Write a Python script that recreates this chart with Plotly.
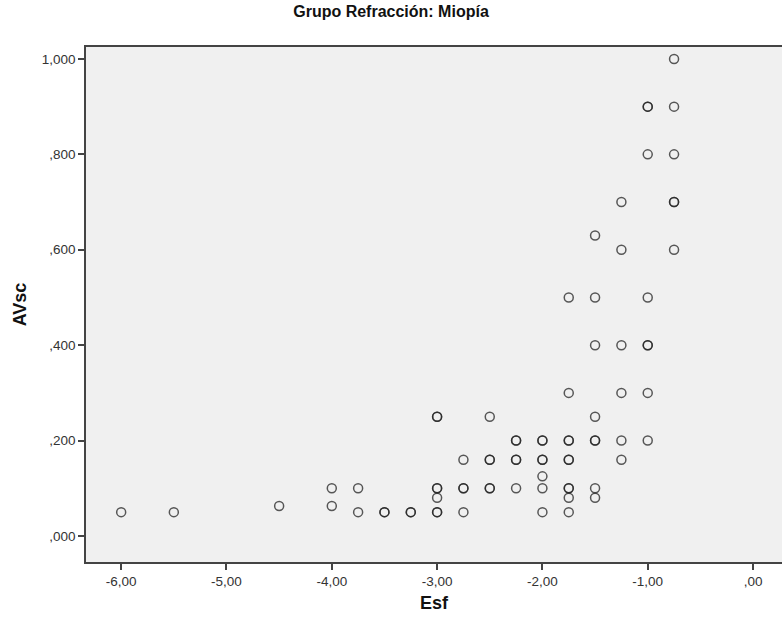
import plotly.graph_objects as go

# Data (duplicates represent overlapping cases)
esf = [-6, -5.5, -4.5,
       -4, -4,
       -3.75, -3.75,
       -3.5, -3.5,
       -3.25, -3.25,
       -3, -3, -3, -3, -3, -3, -3,
       -2.75, -2.75, -2.75, -2.75,
       -2.5, -2.5, -2.5, -2.5, -2.5,
       -2.25, -2.25, -2.25, -2.25, -2.25,
       -2, -2, -2, -2, -2, -2, -2,
       -1.75, -1.75, -1.75, -1.75, -1.75, -1.75, -1.75, -1.75, -1.75, -1.75,
       -1.5, -1.5, -1.5, -1.5, -1.5, -1.5, -1.5, -1.5,
       -1.25, -1.25, -1.25, -1.25, -1.25, -1.25,
       -1, -1, -1, -1, -1, -1, -1, -1,
       -0.75, -0.75, -0.75, -0.75, -0.75, -0.75]
avsc = [0.05, 0.05, 0.063,
        0.1, 0.063,
        0.1, 0.05,
        0.05, 0.05,
        0.05, 0.05,
        0.25, 0.25, 0.1, 0.1, 0.08, 0.05, 0.05,
        0.16, 0.1, 0.1, 0.05,
        0.25, 0.16, 0.16, 0.1, 0.1,
        0.2, 0.2, 0.16, 0.16, 0.1,
        0.2, 0.2, 0.16, 0.16, 0.125, 0.1, 0.05,
        0.5, 0.3, 0.2, 0.2, 0.16, 0.16, 0.1, 0.1, 0.08, 0.05,
        0.63, 0.5, 0.4, 0.25, 0.2, 0.2, 0.1, 0.08,
        0.7, 0.6, 0.4, 0.3, 0.2, 0.16,
        0.9, 0.9, 0.8, 0.5, 0.4, 0.4, 0.3, 0.2,
        1.0, 0.9, 0.8, 0.7, 0.7, 0.6]

x_tickvals = [-6, -5, -4, -3, -2, -1, 0]
x_ticktext = ["-6,00", "-5,00", "-4,00", "-3,00", "-2,00", "-1,00", ",00"]
y_tickvals = [0, 0.2, 0.4, 0.6, 0.8, 1.0]
y_ticktext = [",000", ",200", ",400", ",600", ",800", "1,000"]

FONT = "Liberation Sans, Arial, sans-serif"

fig = go.Figure()
fig.add_trace(go.Scatter(
    x=esf, y=avsc, mode="markers",
    marker=dict(symbol="circle-open", size=9, color="rgba(35,35,35,0.75)",
                line=dict(width=1.5, color="rgba(35,35,35,0.75)")),
    hoverinfo="x+y", showlegend=False,
))

fig.update_layout(
    width=782, height=619,
    margin=dict(l=86, r=0, t=47, b=57, autoexpand=False),
    paper_bgcolor="white",
    plot_bgcolor="#F0F0F0",
    font=dict(family=FONT, color="#333333", size=13),
    title=dict(text="<b>Grupo Refracción: Miopía</b>", x=0.5, xref="container",
               xanchor="center", y=1 - 11 / 619, yref="container", yanchor="middle",
               font=dict(family=FONT, size=16, color="#111111")),
    xaxis=dict(range=[-6.334, 0.275], tickvals=x_tickvals, ticktext=x_ticktext,
               showgrid=False, zeroline=False, showline=True, linecolor="#444444",
               linewidth=1.5, mirror=True, ticks="outside", ticklen=6, tickwidth=1.5,
               tickcolor="#444444", tickfont=dict(size=13.5, color="#333333"),
               automargin=False,
               title=dict(text="<b>Esf</b>", font=dict(size=18, color="#111111"),
                          standoff=8)),
    yaxis=dict(range=[-0.0545, 1.025], tickvals=y_tickvals, ticktext=y_ticktext,
               showgrid=False, zeroline=False, showline=True, linecolor="#444444",
               linewidth=1.5, ticks="outside", ticklen=6, tickwidth=1.5,
               tickcolor="#444444", tickfont=dict(size=13.5, color="#333333"),
               automargin=False,
               title=dict(text="<b>AVsc</b>", font=dict(size=18, color="#111111"),
                          standoff=10)),
)

fig.write_html("out.html",
               config={"displayModeBar": False},
               post_script="document.body.style.margin='0';document.body.style.overflow='hidden';")
